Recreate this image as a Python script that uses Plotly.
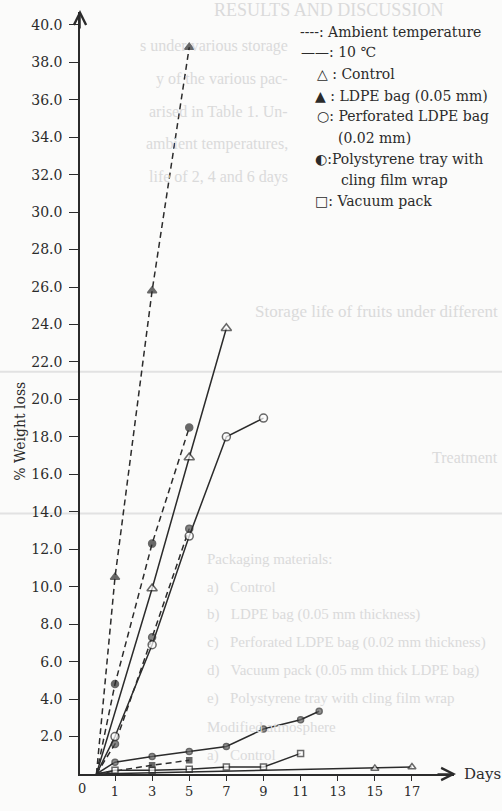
import plotly.graph_objects as go

# ---------------- data ----------------
days_amb_ldpe = [0, 1, 3, 5]
amb_ldpe = [0, 10.5, 25.8, 38.8]

days_amb_poly = [0, 1, 3, 5]
amb_poly = [0, 4.8, 12.3, 18.5]

days_amb_perf = [0, 1, 3, 5]
amb_perf = [0, 1.6, 7.3, 13.1]

days_amb_vac = [0, 3, 5]
amb_vac = [0, 0.47, 0.73]

days_c_control = [0, 3, 5, 7]
c_control = [0, 9.9, 16.9, 23.8]

days_c_perf = [0, 1, 3, 5, 7, 9]
c_perf = [0, 2.0, 6.9, 12.7, 18.0, 19.0]

days_c_poly = [0, 1, 3, 5, 7, 9, 11, 12]
c_poly = [0, 0.63, 0.94, 1.2, 1.47, 2.4, 2.9, 3.35]

days_c_vac = [0, 1, 3, 5, 7, 9, 11]
c_vac = [0, 0.2, 0.2, 0.25, 0.37, 0.37, 1.1]

days_c_ldpe = [0, 15, 17]
c_ldpe = [0, 0.3, 0.37]

x_ticks = [1, 3, 5, 7, 9, 11, 13, 15, 17]
y_ticks = [2, 4, 6, 8, 10, 12, 14, 16, 18, 20, 22, 24, 26, 28, 30, 32, 34, 36, 38, 40]

legend_lines = [
    "----: Ambient temperature",
    "——: 10 ℃",
    "△ : Control",
    "▲ : LDPE bag (0.05 mm)",
    "○: Perforated LDPE bag",
    "(0.02 mm)",
    "◐:Polystyrene tray with",
    "cling film wrap",
    "□: Vacuum pack",
]

# faint show-through text of the scanned page
page_lines = [
    "RESULTS AND DISCUSSION",
    "s under various storage",
    "y of the various pac-",
    "arised in Table 1. Un-",
    "ambient temperatures,",
    "life of 2, 4 and 6 days",
    "Storage life of fruits under different",
    "Treatment",
    "Packaging materials:",
    "a)   Control",
    "b)   LDPE bag (0.05 mm thickness)",
    "c)   Perforated LDPE bag (0.02 mm thickness)",
    "d)   Vacuum pack (0.05 mm thick LDPE bag)",
    "e)   Polystyrene tray with cling film wrap",
    "Modified atmosphere",
    "a)   Control",
]

# ---------------- layout geometry ----------------
W, H = 502, 811
L, R, T, B = 80, 48, 12, 24
PW, PH = W - L - R, H - T - B
INK = "#2b2b2b"
FAINT = "#dadada"
FONT = "DejaVu Serif"
BG = "#fbfbfa"


def px(xp):
    return (xp - L) / PW


def py(yp):
    return (H - B - yp) / PH


fig = go.Figure()


def add(days, vals, dash, symbol, fill, size):
    sizes = [0 if d == 0 else size for d in days]
    fig.add_trace(go.Scatter(
        x=days, y=vals, mode="lines+markers",
        line=dict(color=INK, width=1.5, dash=dash),
        marker=dict(symbol=symbol, size=sizes, color=fill,
                    line=dict(color=INK, width=1.5)),
        showlegend=False, cliponaxis=False))


DASH = "6px,4px"
add(days_amb_ldpe, amb_ldpe, DASH, "triangle-up", INK, 8)
add(days_amb_poly, amb_poly, DASH, "circle", INK, 7)
add(days_amb_perf, amb_perf, DASH, "circle", "#555555", 7)
add(days_amb_vac, amb_vac, DASH, "square", INK, 5)
add(days_c_control, c_control, "solid", "triangle-up", "white", 9)
add(days_c_perf, c_perf, "solid", "circle", "white", 8)
add(days_c_poly, c_poly, "solid", "circle", "#666666", 6)
add(days_c_vac, c_vac, "solid", "square", "white", 6)
add(days_c_ldpe, c_ldpe, "solid", "triangle-up", "white", 7)

# x range: day 1 at px 115, 18.56 px/day
ppd = 18.56
day0 = 115 - ppd
x0 = (L - day0) / ppd
x1 = (W - R - day0) / ppd
y_ppu = 19.05
y1 = PH / y_ppu

annotations = []

# faint page text (placed first so it sits underneath)
page_pos = [
    (445, 10, "right", 18), (290, 47, "right", 16), (290, 80, "right", 16),
    (290, 113, "right", 16), (290, 146, "right", 16), (290, 180, "right", 16),
    (500, 317, "right", 17), (500, 465, "right", 16), (205, 568, "left", 15),
    (205, 597, "left", 15), (205, 625, "left", 15), (205, 653, "left", 15),
    (205, 682, "left", 15), (205, 710, "left", 15), (205, 739, "left", 15),
    (205, 768, "left", 15),
]
for txt, (lx, ly, anc, fs) in zip(page_lines, page_pos):
    annotations.append(dict(text=txt, x=px(lx), y=py(ly), xref="paper", yref="paper",
                            xanchor=anc, yanchor="middle", showarrow=False,
                            font=dict(family="Liberation Serif", size=fs, color=FAINT)))

# legend text block
leg_pos = [(298, 32), (299, 53), (315, 75), (313, 97), (315, 118),
           (336, 140), (313, 162), (339, 183), (313, 204)]
for txt, (lx, ly) in zip(legend_lines, leg_pos):
    annotations.append(dict(text=txt, x=px(lx), y=py(ly), xref="paper", yref="paper",
                            xanchor="left", yanchor="middle", showarrow=False,
                            font=dict(family=FONT, size=14, color=INK)))

# y title
annotations.append(dict(text="% Weight loss", textangle=-90, x=px(20), y=py(439),
                        xref="paper", yref="paper", xanchor="center", yanchor="middle",
                        showarrow=False, font=dict(family=FONT, size=14, color=INK)))
# origin label
annotations.append(dict(text="0", x=px(82), y=py(802), xref="paper", yref="paper",
                        xanchor="center", yanchor="middle", showarrow=False,
                        font=dict(family=FONT, size=13, color=INK)))
# Days label
annotations.append(dict(text="Days", x=px(462), y=py(787), xref="paper", yref="paper",
                        xanchor="left", yanchor="middle", showarrow=False,
                        font=dict(family=FONT, size=15, color=INK)))
# axis arrows
annotations.append(dict(x=px(80), y=py(10), xref="paper", yref="paper", ax=0, ay=20,
                        showarrow=True, arrowhead=5, arrowsize=1.6, arrowwidth=1.5,
                        arrowcolor=INK, text=""))
annotations.append(dict(x=px(456), y=py(787), xref="paper", yref="paper", ax=-20, ay=0,
                        showarrow=True, arrowhead=5, arrowsize=1.6, arrowwidth=1.5,
                        arrowcolor=INK, text=""))

# faint scan bands
shapes = [
    dict(type="line", xref="paper", yref="paper", x0=px(0), x1=px(W), y0=py(yb), y1=py(yb),
         line=dict(color="#e2e2e2", width=2), layer="below")
    for yb in (378, 522)
]

fig.update_layout(
    width=W, height=H,
    margin=dict(l=L, r=R, t=T, b=B, pad=0),
    paper_bgcolor=BG, plot_bgcolor=BG,
    annotations=annotations,
    shapes=shapes,
    xaxis=dict(range=[x0, x1], showgrid=False, zeroline=False, showline=True,
               linecolor=INK, linewidth=1.5, ticks="outside", ticklen=5, tickwidth=1.3,
               tickcolor=INK, tickvals=x_ticks, ticktext=[str(v) for v in x_ticks],
               tickfont=dict(family=FONT, size=13, color=INK)),
    yaxis=dict(range=[0, y1], showgrid=False, zeroline=False, showline=True,
               linecolor=INK, linewidth=1.5, ticks="outside", ticklen=9, tickwidth=1.3,
               tickcolor=INK, tickvals=y_ticks, ticktext=[f"{v:.1f}" for v in y_ticks],
               tickfont=dict(family=FONT, size=14, color=INK), ticklabelstandoff=4),
)

fig.write_html("out.html")
